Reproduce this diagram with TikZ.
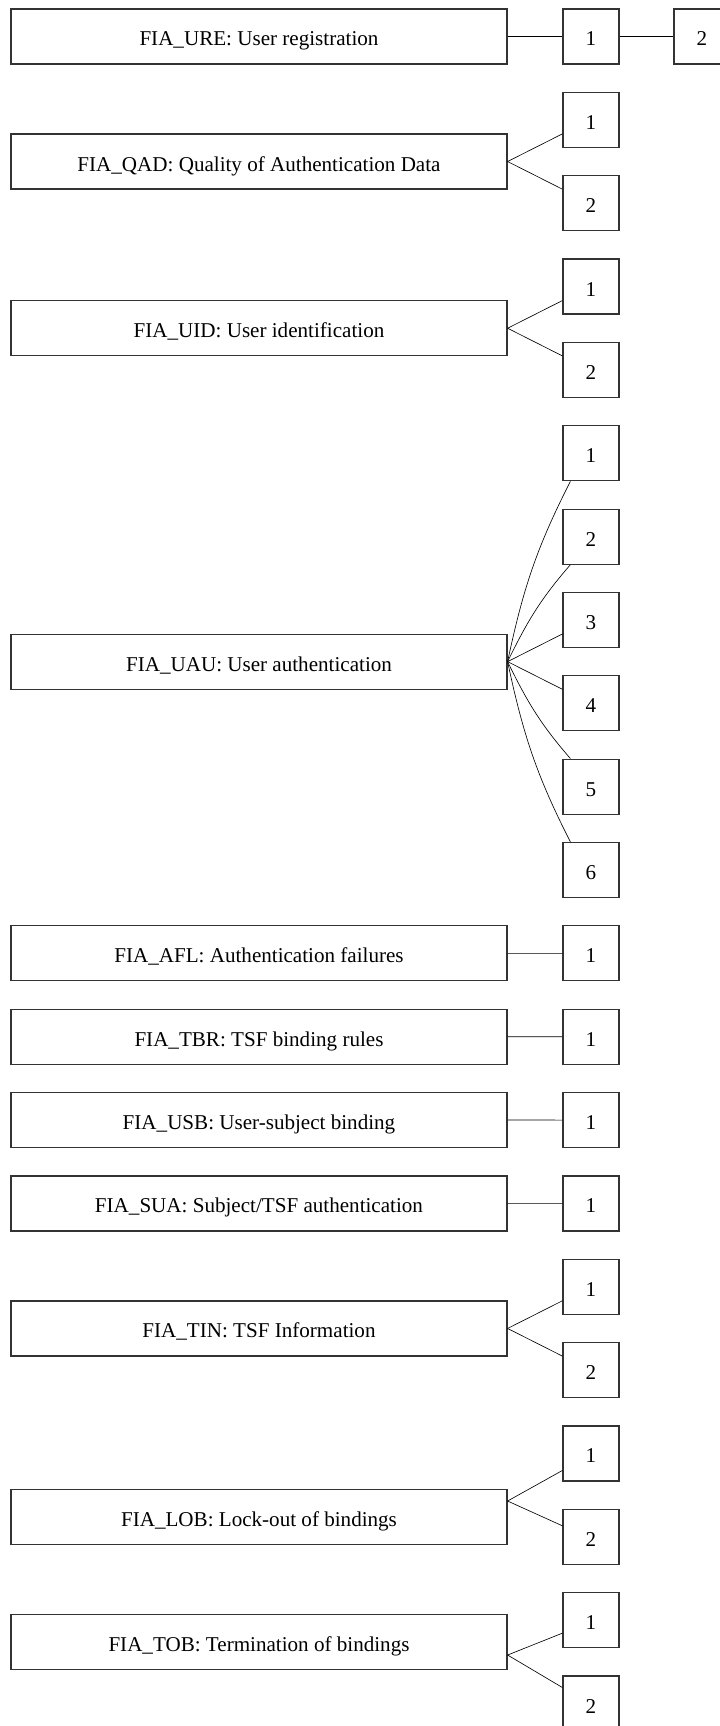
\documentclass[tikz,border=0pt]{standalone}
\usepackage{fontspec}
\setmainfont{Liberation Serif}
\usepackage{tikz}

\begin{document}
\begin{tikzpicture}[every node/.style = {shape = rectangle, draw = black!80, line width = 0.85pt, minimum height = 1.375cm, inner sep = 0pt, text height = 13.5pt, text depth = 0pt, align = center, font = \fontsize{15}{18}\selectfont},family/.style = {minimum width = 12.4cm}, item/.style = {minimum width = 1.4cm}, black edge/.style = { -, line width = 0.45pt, black}]
\useasboundingbox (0,0) rectangle (17.975,-43.15);
\node[family](f;1)  at (6.475,-0.9125) {FIA\_URE: User registration};
\node[family](f;2)  at (6.475,-4.038)  {FIA\_QAD: Quality of Authentication Data};
\node[family](f;3)  at (6.475,-8.206)  {FIA\_UID: User identification};
\node[family](f;4)  at (6.475,-16.541) {FIA\_UAU: User authentication};
\node[family](f;5)  at (6.475,-23.834) {FIA\_AFL: Authentication failures};
\node[family](f;6)  at (6.475,-25.918) {FIA\_TBR: TSF binding rules};
\node[family](f;7)  at (6.475,-28.001) {FIA\_USB: User-subject binding};
\node[family](f;8)  at (6.475,-30.085) {FIA\_SUA: Subject/TSF authentication};
\node[family](f;9)  at (6.475,-33.211) {FIA\_TIN: TSF Information};
\node[family](f;10) at (6.475,-37.925) {FIA\_LOB: Lock-out of bindings};
\node[family](f;11) at (6.475,-41.05)  {FIA\_TOB: Termination of bindings};
\foreach \k/\n in {0/1,1/1,2/2,3/1,4/2,5/1,6/2,7/3,8/4,9/5,10/6,11/1,12/1,13/1,14/1,15/1,16/2,17/1,18/2,19/1,20/2}
  { \node[item](c;\k) at (14.775,{-0.9125-2.08375*\k}) {\n}; }
  \node[item](d;0) at (17.55,-0.9125) {2};
\draw[black edge] (f;1.east) -- (c;0.west);
\draw[black edge] (c;0.east) -- (d;0.west);
\foreach \i/\k in {5/11,6/12,7/13,8/14}
  { \draw[black edge] (f;\i.east) -- (c;\k.west); }
\foreach \i/\a/\b in {2/1/2,3/3/4,9/15/16}
  { \draw[black edge] (f;\i.east) -- ([yshift=-0.35cm]c;\a.west);
    \draw[black edge] (f;\i.east) -- ([yshift=0.35cm]c;\b.west); }
\draw[black edge] (f;4.east) to[out=78,in=243] ([xshift=0.2cm]c;5.south west);
\draw[black edge] (f;4.east) to[out=64,in=229] ([xshift=0.2cm]c;6.south west);
\draw[black edge] (f;4.east) -- ([yshift=-0.35cm]c;7.west);
\draw[black edge] (f;4.east) -- ([yshift=0.35cm]c;8.west);
\draw[black edge] (f;4.east) to[out=-64,in=131] ([xshift=0.2cm]c;9.north west);
\draw[black edge] (f;4.east) to[out=-78,in=117] ([xshift=0.2cm]c;10.north west);
\draw[black edge] ([yshift=0.4cm]f;10.east) -- ([yshift=-0.425cm]c;17.west);
\draw[black edge] ([yshift=0.4cm]f;10.east) -- ([yshift=0.275cm]c;18.west);
\draw[black edge] ([yshift=-0.325cm]f;11.east) -- ([yshift=-0.325cm]c;19.west);
\draw[black edge] ([yshift=-0.325cm]f;11.east) -- ([yshift=0.4cm]c;20.west);
\end{tikzpicture}
\end{document}
